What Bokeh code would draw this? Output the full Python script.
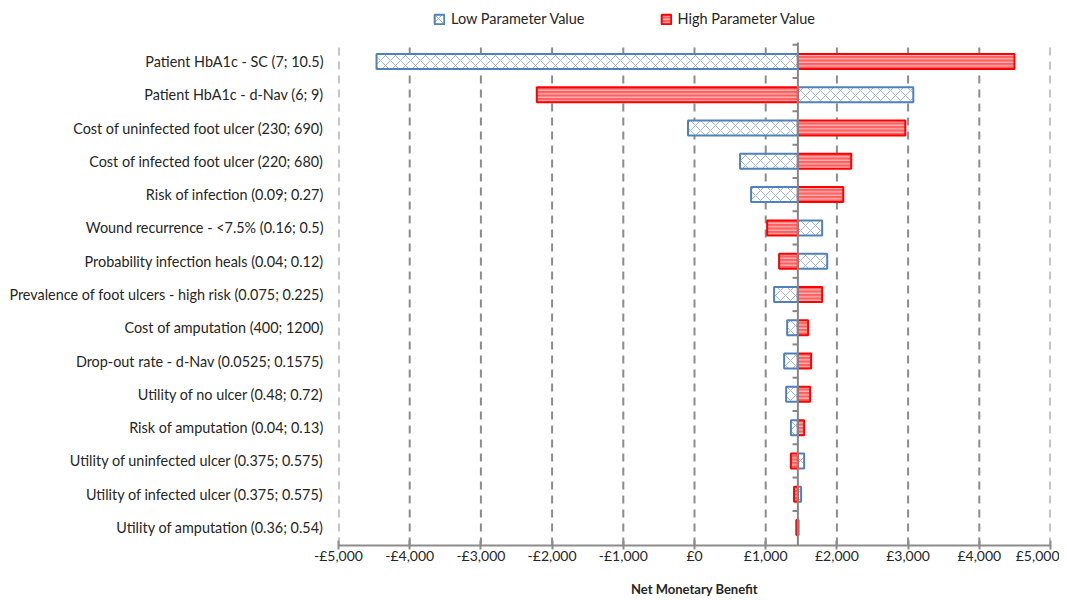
from bokeh.plotting import figure
from bokeh.models import ColumnDataSource, Legend, LegendItem, FixedTicker
from bokeh.embed import file_html
from bokeh.resources import INLINE

parameters = [
    "Patient HbA1c - SC (7; 10.5)",
    "Patient HbA1c - d-Nav (6; 9)",
    "Cost of uninfected foot ulcer (230; 690)",
    "Cost of infected foot ulcer (220; 680)",
    "Risk of infection (0.09; 0.27)",
    "Wound recurrence - <7.5% (0.16; 0.5)",
    "Probability infection heals (0.04; 0.12)",
    "Prevalence of foot ulcers - high risk (0.075; 0.225)",
    "Cost of amputation (400; 1200)",
    "Drop-out rate - d-Nav (0.0525; 0.1575)",
    "Utility of no ulcer (0.48; 0.72)",
    "Risk of amputation (0.04; 0.13)",
    "Utility of uninfected ulcer (0.375; 0.575)",
    "Utility of infected ulcer (0.375; 0.575)",
    "Utility of amputation (0.36; 0.54)",
]
base_value = 1452
low_values = [-4466, 3073, -91, 640, 795, 1793, 1864, 1118, 1301, 1259, 1287, 1354, 1540, 1497, 1462]
high_values = [4494, -2215, 2961, 2201, 2089, 1020, 1188, 1793, 1596, 1638, 1624, 1540, 1354, 1398, 1430]
x_ticks = [-5000, -4000, -3000, -2000, -1000, 0, 1000, 2000, 3000, 4000, 5000]

n = len(parameters)
ypos = [n - i for i in range(n)]
y_lo = 0.46
y_hi = n + 0.57            # top of the bar area
y_top = y_hi + 1.02        # room for the legend

def fmt(v):
    s = "£{:,}".format(abs(v))
    return "-" + s if v < 0 else s

low_src = ColumnDataSource(dict(
    y=ypos,
    left=[min(v, base_value) for v in low_values],
    right=[max(v, base_value) for v in low_values],
))
high_src = ColumnDataSource(dict(
    y=ypos,
    left=[min(v, base_value) for v in high_values],
    right=[max(v, base_value) for v in high_values],
))

p = figure(frame_width=712, frame_height=537, output_backend="svg", toolbar_location=None,
           x_range=(-5000, 5000), y_range=(y_lo, y_top),
           min_border_left=338, min_border_right=9, min_border_top=8, min_border_bottom=10)
p.outline_line_color = None
p.background_fill_color = "white"
p.xgrid.grid_line_color = None
p.ygrid.grid_line_color = None

GRID = "#8c8c8c"
# dashed vertical gridlines limited to the bar area
p.segment(x0=x_ticks, x1=x_ticks, y0=[y_lo] * len(x_ticks), y1=[y_hi] * len(x_ticks),
          line_color=GRID, line_width=2, line_dash="8 6")

BLUE = "#4f81bd"
RED = "#ff0000"
r_low = p.hbar(y="y", left="left", right="right", height=0.45, source=low_src,
               fill_color="white", line_color=BLUE, line_width=2,
               hatch_pattern="diagonal_cross", hatch_color="#9bb5dc", hatch_scale=10, hatch_weight=1)
r_high = p.hbar(y="y", left="left", right="right", height=0.45, source=high_src,
                fill_color="#ff5e5e", line_color=RED, line_width=2,
                hatch_pattern="horizontal_line", hatch_color="#ffd6d6", hatch_scale=3.5, hatch_weight=1)

# base line with category ticks
p.segment(x0=[base_value], x1=[base_value], y0=[y_lo], y1=[y_hi], line_color="#868686", line_width=2)
bounds = [k + 0.5 for k in range(1, n + 1)]
p.segment(x0=[base_value - 75] * len(bounds), x1=[base_value] * len(bounds), y0=bounds, y1=bounds,
          line_color="#868686", line_width=2)

FONT = "Lato"
TXT = "#262626"
xa = p.xaxis[0]
xa.ticker = FixedTicker(ticks=x_ticks)
xa.major_label_overrides = {t: fmt(t) for t in x_ticks}
xa.axis_line_color = "#8c8c8c"
xa.axis_line_width = 2
xa.major_tick_line_color = "#8c8c8c"
xa.major_tick_line_width = 2
xa.major_tick_in = 5
xa.major_tick_out = 4
xa.minor_tick_line_color = None
xa.major_label_text_font = FONT
xa.major_label_text_font_size = "14px"
xa.major_label_text_color = TXT
xa.major_label_standoff = -3
xa.axis_label = "Net Monetary Benefit"
xa.axis_label_text_font = FONT
xa.axis_label_text_font_style = "bold"
xa.axis_label_text_font_size = "13px"
xa.axis_label_text_color = TXT
xa.axis_label_standoff = 14

ya = p.yaxis[0]
ya.ticker = FixedTicker(ticks=ypos)
ya.major_label_overrides = {y: lab for y, lab in zip(ypos, parameters)}
ya.axis_line_color = None
ya.major_tick_line_color = None
ya.minor_tick_line_color = None
ya.major_tick_out = 0
ya.major_tick_in = 0
ya.major_label_standoff = 15
ya.major_label_text_font = FONT
ya.major_label_text_font_size = "14.4px"
ya.major_label_text_color = TXT

lg = Legend(items=[LegendItem(label="Low Parameter Value", renderers=[r_low]),
                   LegendItem(label="High Parameter Value", renderers=[r_high])],
            location=(95, 518), orientation="horizontal",
            border_line_color=None, background_fill_alpha=0,
            padding=0, margin=0, spacing=75, glyph_width=12, glyph_height=12,
            label_standoff=6,
            label_text_font=FONT, label_text_font_size="14.5px", label_text_color=TXT)
p.add_layout(lg, "center")

open("out.html", "w").write(file_html(p, INLINE))
